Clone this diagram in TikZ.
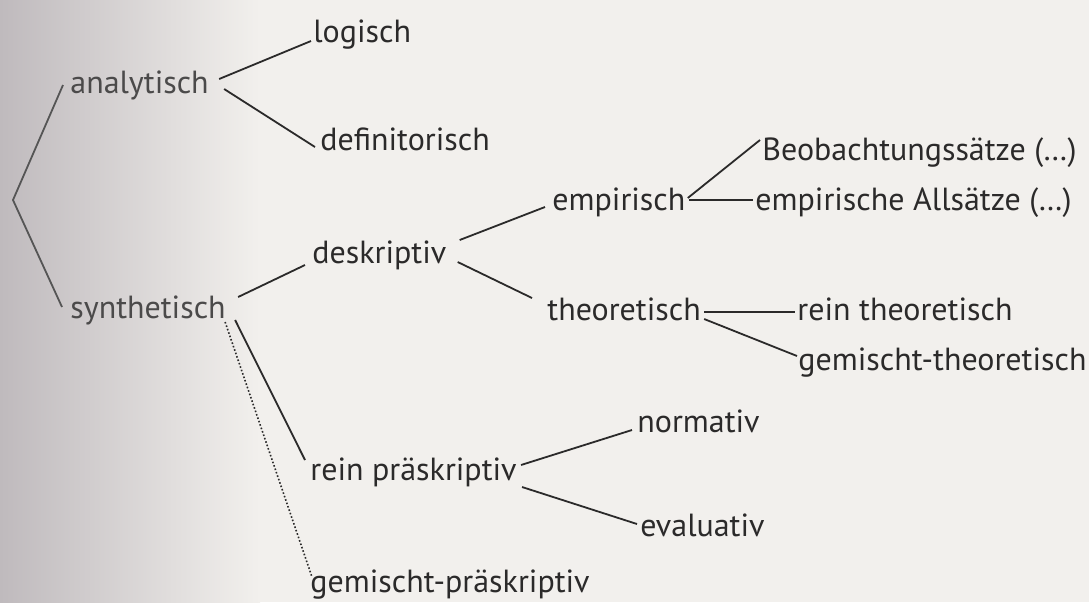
\documentclass[tikz,border=0pt]{standalone}
\usepackage{fontspec}
\setmainfont{PT Sans}
\usepackage{tikz}
\usepackage{xcolor}
\definecolor{ink}{HTML}{2B2A2A}
\definecolor{paper}{HTML}{F2F0ED}
\definecolor{shadow}{HTML}{BFBABD}

\begin{document}
\begin{tikzpicture}[x=0.5pt,y=0.5pt,
  term/.style={anchor=base west,inner sep=0pt,text=ink,font=\fontsize{16}{19}\selectfont},
  link/.style={draw=ink,line width=0.9pt}]
  \fill[paper] (0,0) rectangle (1089,-602);
  \shade[left color=shadow,right color=paper] (0,0) rectangle (260,-602);
  \useasboundingbox (0,0) rectangle (1089,-602);
  % first level
  \coordinate (root) at (13,-200);
  \node[term,text=ink!85] (an) at (70,-93) {analytisch};
  \node[term,text=ink!85] (sy) at (70,-318) {synthetisch};
  % analytisch
  \node[term] (lo) at (313,-42) {logisch};
  \node[term] (de) at (320,-150) {definitorisch};
  % synthetisch
  \node[term] (dk) at (312,-263) {deskriptiv};
  \node[term] (rp) at (310,-480) {rein präskriptiv};
  \node[term] (gp) at (310,-592) {gemischt-präskriptiv};
  % deskriptiv
  \node[term] (em) at (552,-210) {empirisch};
  \node[term] (th) at (547,-320) {theoretisch};
  \node[term] (bs) at (762,-160) {Beobachtungssätze (\dots)};
  \node[term] (ea) at (755,-210) {empirische Allsätze (\dots)};
  \node[term] (rt) at (797,-320) {rein theoretisch};
  \node[term] (gt) at (798,-370) {gemischt-theoretisch};
  % praeskriptiv
  \node[term] (no) at (637,-432) {normativ};
  \node[term] (ev) at (640,-536) {evaluativ};

  \draw[link,draw=ink!80] ([shift={(-7,8)}]an.base west) -- (root) -- ([shift={(-8,11)}]sy.base west);
  \draw[link] ([shift={(10,14)}]an.base east) -- ([shift={(-2,1)}]lo.base west);
  \draw[link] ([shift={(15,4)}]an.base east) -- ([shift={(-5,3)}]de.base west);
  \draw[link] ([shift={(12,21)}]sy.base east) -- ([shift={(-7,-2)}]dk.base west);
  \draw[link] ([shift={(9,-2)}]sy.base east) -- ([shift={(-5,20)}]rp.base west);
  \draw[draw=ink,line width=0.8pt,densely dotted] ([shift={(-1,-4)}]sy.base east) -- ([shift={(2,15)}]gp.base west);
  \draw[link] ([shift={(13,23)}]dk.base east) -- ([shift={(-7,3)}]em.base west);
  \draw[link] ([shift={(11,1)}]dk.base east) -- ([shift={(-15,22)}]th.base west);
  \draw[link] ([shift={(2,12)}]em.base east) -- ([shift={(-2,20)}]bs.base west);
  \draw[link] ([shift={(3,10)}]em.base east) -- ([shift={(-2,10)}]ea.base west);
  \draw[link] ([shift={(3,8)}]th.base east) -- ([shift={(-2,8)}]rt.base west);
  \draw[link] ([shift={(3,1)}]th.base east) -- ([shift={(-1,14)}]gt.base west);
  \draw[link] ([shift={(4,15)}]rp.base east) -- ([shift={(-5,2)}]no.base west);
  \draw[link] ([shift={(5,-7)}]rp.base east) -- ([shift={(-3,12)}]ev.base west);
\end{tikzpicture}
\end{document}
